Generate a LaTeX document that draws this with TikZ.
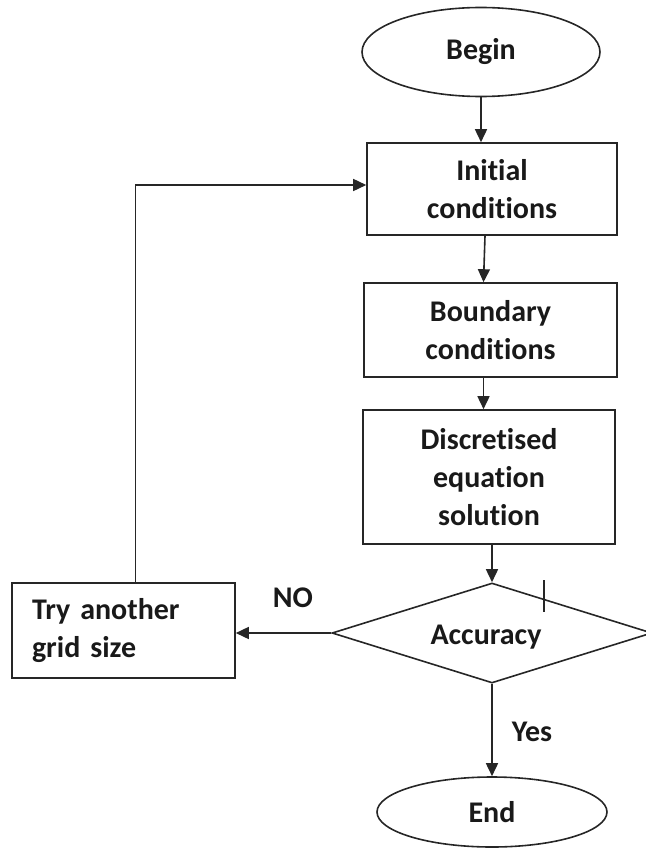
\documentclass[tikz,border=0pt]{standalone}
\usepackage{fontspec}
\setmainfont{Carlito}[RawFeature={-liga}]
\usetikzlibrary{shapes.geometric,arrows.meta}
\begin{document}
\begin{tikzpicture}[x=1pt,y=-1pt,
  every node/.style={font=\fontsize{30}{38}\selectfont\bfseries, text=black!90},
  ln/.style={line width=1.6pt, draw=black!85},
  arr/.style={ln, -{Triangle[length=13pt,width=12pt]}},
  boxnode/.style={draw=black!85, line width=1.6pt, rectangle, align=center, inner sep=0pt},
  oval/.style={draw=black!85, line width=1.6pt, ellipse, inner sep=0pt}]
\useasboundingbox (0,0) rectangle (645,848);
\node[oval, minimum width=238pt, minimum height=89pt] (begin) at (481,52) {Begin};
\node[boxnode, minimum width=250pt, minimum height=92pt] (init) at (492,189) {Initial\\conditions};
\node[boxnode, minimum width=253pt, minimum height=94pt] (bound) at (490.5,330) {Boundary\\conditions};
\node[boxnode, minimum width=252pt, minimum height=134pt] (disc) at (489,477) {Discretised\\equation\\solution};
\node[diamond, draw=black!85, line width=1.6pt, inner sep=0pt, minimum width=320pt, minimum height=100pt] (acc) at (492,633) {};
\node (acct) at (486,637) {Accuracy};
\node[boxnode, minimum width=223pt, minimum height=95pt, text width=183pt, align=left] (try) at (123.5,630.5) {Try another\\grid size};
\node[oval, minimum width=230pt, minimum height=70pt] (end) at (492,812) {End};
\node (no) at (293,598) {NO};
\node (yes) at (532,732) {Yes};
\coordinate (tickA) at (544,580);
\coordinate (tickB) at (544,612);
\draw[ln] (tickA) -- (tickB);
\draw[arr] (begin.south) -- (begin.south |- init.north);
\draw[arr] ([xshift=-7pt]init.south) -- ([xshift=-7pt]bound.north);
\draw[arr] ([xshift=-7pt]bound.south) -- ([xshift=-7pt]bound.south |- disc.north);
\draw[arr] (disc.south -| acc.north) -- (acc.north);
\draw[arr] (acc.west) -- (acc.west -| try.east);
\draw[arr] ([xshift=12pt]try.north) |- ([yshift=4pt]init.west);
\draw[arr] (acc.south) -- (end.north);
\end{tikzpicture}
\end{document}
